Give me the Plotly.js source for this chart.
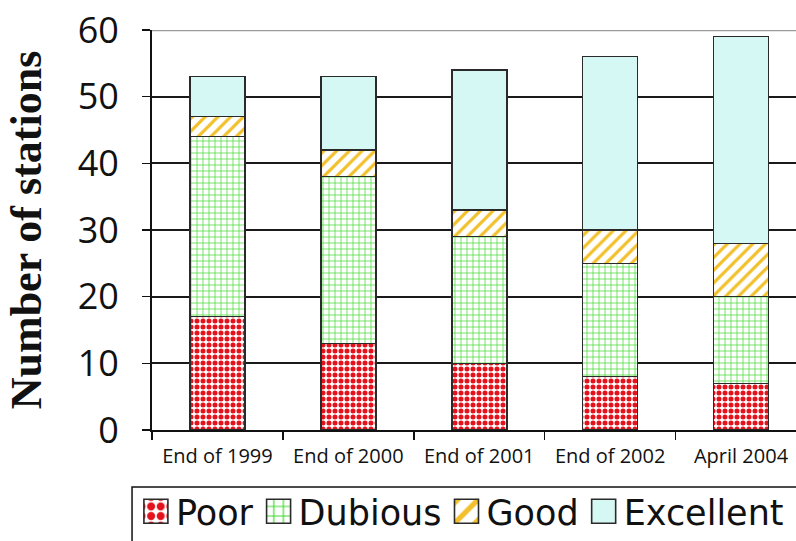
<!DOCTYPE html>
<html>
<head>
<meta charset="utf-8">
<script src="https://cdn.plot.ly/plotly-3.0.1.min.js"></script>
<style>html,body{margin:0;padding:0;background:#fff;}#chart{width:796px;height:541px;}</style>
</head>
<body>
<div id="chart"></div>
<script>
var categories = ["End of 1999", "End of 2000", "End of 2001", "End of 2002", "April 2004"];
var poor = [17, 13, 10, 8, 7];
var dubious = [27, 25, 19, 17, 13];
var good = [3, 4, 4, 5, 8];
var excellent = [6, 11, 21, 26, 31];
var yTicks = [0, 10, 20, 30, 40, 50, 60];

var outline = {color: "#2a2a2a", width: 1.6};
function barTrace(name, values, fill, pattern) {
  return {
    type: "bar", name: name, x: categories, y: values, width: 0.42,
    marker: {color: fill, line: outline, pattern: pattern},
    hoverinfo: "skip"
  };
}
var data = [
  barTrace("Poor", poor, "#ffffff", {shape: ".", fgcolor: "#e4121c", bgcolor: "#ffffff", fgopacity: 1, size: 6, solidity: 0.55, fillmode: "overlay"}),
  barTrace("Dubious", dubious, "#ffffff", {shape: "+", fgcolor: "#3fd82c", bgcolor: "#ffffff", fgopacity: 1, size: 6, solidity: 0.22, fillmode: "overlay"}),
  barTrace("Good", good, "#ffffff", {shape: "/", fgcolor: "#f2c02a", bgcolor: "#ffffff", fgopacity: 1, size: 9, solidity: 0.36, fillmode: "overlay"}),
  barTrace("Excellent", excellent, "#d6f8f4", {shape: ""})
];

var layout = {
  width: 796, height: 541,
  margin: {l: 152, r: 0, t: 30, b: 111, pad: 0, autoexpand: false},
  paper_bgcolor: "#ffffff", plot_bgcolor: "#ffffff",
  barmode: "stack",
  showlegend: true,
  legend: {
    orientation: "h", traceorder: "normal",
    x: -0.025, xanchor: "left", y: -0.13, yanchor: "top",
    font: {family: "DejaVu Sans, sans-serif", size: 35, color: "#111"},
    bgcolor: "rgba(0,0,0,0)", borderwidth: 0
  },
  xaxis: {
    type: "category", range: [-0.5, 4.42],
    showline: true, linecolor: "#111", linewidth: 2,
    ticks: "outside", tickson: "boundaries", ticklen: 8, tickwidth: 1.5, tickcolor: "#111",
    tickfont: {family: "Open Sans, sans-serif", size: 20, color: "#111"},
    ticklabelstandoff: 7,
    showgrid: false, zeroline: false, fixedrange: true, automargin: false
  },
  yaxis: {
    range: [0, 60], tickvals: yTicks, ticktext: yTicks.map(String),
    showline: true, linecolor: "#111", linewidth: 2,
    ticks: "outside", ticklen: 8, tickwidth: 1.5, tickcolor: "#111",
    tickfont: {family: "Open Sans, sans-serif", size: 36, color: "#111"},
    ticklabelstandoff: 16,
    showgrid: true, gridcolor: "#1a1a1a", gridwidth: 2,
    zeroline: false, fixedrange: true, automargin: false,
    title: {text: "Number of stations", font: {family: "Liberation Serif, Times New Roman, serif", size: 44, color: "#111", weight: "bold"}, standoff: 22}
  },
  shapes: [
    {type: "line", xref: "paper", yref: "y", x0: 0, x1: 1, y0: 60, y1: 60, layer: "between", line: {color: "#9a9a9a", width: 2.5}},
    {type: "rect", xref: "paper", yref: "paper", x0: -0.031, x1: 1.05, y0: -0.5, y1: -0.1425, layer: "above", line: {color: "#111", width: 1.5}, fillcolor: "rgba(0,0,0,0)"}
  ]
};

Plotly.newPlot("chart", data, layout, {displayModeBar: false, staticPlot: true}).then(function (gd) {
  gd.querySelectorAll(".legend .legendpoints path").forEach(function (p) {
    var t = p.getAttribute("transform") || "";
    p.setAttribute("transform", t + " scale(2)");
    p.style.vectorEffect = "non-scaling-stroke";
  });
});
</script>
</body>
</html>
